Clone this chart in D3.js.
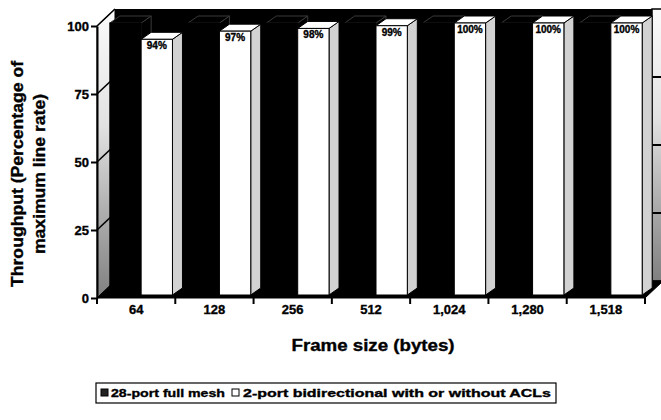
<!DOCTYPE html>
<html>
<head>
<meta charset="utf-8">
<script src="https://cdn.jsdelivr.net/npm/d3@7/dist/d3.min.js"></script>
<style>
  html, body { margin: 0; padding: 0; background: #fff; }
  svg { display: block; }
  text { font-family: "Liberation Sans", Arial, Helvetica, sans-serif; font-weight: bold; fill: #000; }
  .heavy { stroke: #000; stroke-width: 0.35px; }
</style>
</head>
<body>
<svg id="chart" width="661" height="420"></svg>
<script>
// Frame sizes tested (bytes)
const categories = ["64", "128", "256", "512", "1,024", "1,280", "1,518"];
// Throughput, percentage of maximum line rate
const fullMesh = [100, 100, 100, 100, 100, 100, 100];
const bidirectional = [94, 97, 98, 99, 100, 100, 100];
const seriesNames = ["28-port full mesh", "2-port bidirectional with or without ACLs"];
const yTicks = [0, 25, 50, 75, 100];

const svg = d3.select("#chart");

// Front plane of the 3-D box and its depth offset
const front = { left: 97, right: 645, top: 26, bottom: 298 };
const depth = { dx: 18, dy: -17 };
// Offsets for the bars inside the box
const barOff = { dx: 5, dy: -3 };
const barDepth = { dx: 10, dy: -7 };

const y = d3.scaleLinear().domain([0, 100]).range([front.bottom, front.top]);
const x = d3.scaleBand().domain(categories).range([front.left, front.right])
  .paddingInner(0.2).paddingOuter(0.1);
const xs = d3.scaleBand().domain(seriesNames).range([0, x.bandwidth()]).padding(0);

const defs = svg.append("defs");
const grad = defs.append("linearGradient").attr("id", "wallGrad")
  .attr("x1", 0).attr("y1", 0).attr("x2", 0).attr("y2", 1);
[["0%", "#fbfbfb"], ["40%", "#e2e2e2"], ["70%", "#afafaf"], ["100%", "#808080"]]
  .forEach(([o, c]) => grad.append("stop").attr("offset", o).attr("stop-color", c));

const pts = p => p.map(d => d.join(",")).join(" ");
const y0 = y(0), y100 = y(100);

// Back wall
svg.append("polygon")
  .attr("points", pts([[front.left + depth.dx, y100 + depth.dy], [652, y100 + depth.dy],
                       [652, y0 + depth.dy], [front.left + depth.dx, y0 + depth.dy]]))
  .attr("fill", "#000");
// Right-hand edge of the wall
svg.append("rect").attr("x", 652).attr("y", y100 + depth.dy)
  .attr("width", 12).attr("height", y0 - y100)
  .attr("fill", "url(#wallGrad)").attr("stroke", "#000").attr("stroke-width", 1.5);
svg.selectAll("line.rgrid").data(yTicks.filter(t => t > 0 && t < 100)).join("line")
  .attr("class", "rgrid")
  .attr("x1", 652).attr("x2", 661)
  .attr("y1", d => y(d) + depth.dy).attr("y2", d => y(d) + depth.dy)
  .attr("stroke", "#000").attr("stroke-width", 2);

// Left side wall
svg.append("polygon")
  .attr("points", pts([[front.left, y100], [front.left + depth.dx, y100 + depth.dy],
                       [front.left + depth.dx, y0 + depth.dy], [front.left, y0]]))
  .attr("fill", "url(#wallGrad)").attr("stroke", "#000").attr("stroke-width", 1);
svg.selectAll("line.lgrid").data(yTicks.filter(t => t > 0)).join("line")
  .attr("class", "lgrid")
  .attr("x1", front.left).attr("x2", front.left + depth.dx)
  .attr("y1", d => y(d)).attr("y2", d => y(d) + depth.dy)
  .attr("stroke", "#000").attr("stroke-width", 1.6);

// Floor
svg.append("polygon")
  .attr("points", pts([[front.left, y0], [front.right, y0],
                       [front.right + depth.dx, y0 + depth.dy], [front.left + depth.dx, y0 + depth.dy]]))
  .attr("fill", "#000").attr("stroke", "#000");

// 3-D bars
function drawBars(values, name, frontFill, sideFill, topFill, edge) {
  const w = xs.bandwidth();
  const g = svg.append("g");
  values.forEach((v, i) => {
    const x0 = x(categories[i]) + xs(name) + barOff.dx;
    const yt = y(v) + barOff.dy, yb = y(0) + barOff.dy;
    g.append("polygon")
      .attr("points", pts([[x0 + w, yt], [x0 + w + barDepth.dx, yt + barDepth.dy],
                           [x0 + w + barDepth.dx, yb + barDepth.dy], [x0 + w, yb]]))
      .attr("fill", sideFill).attr("stroke", edge).attr("stroke-width", 1);
    g.append("polygon")
      .attr("points", pts([[x0, yt], [x0 + w, yt], [x0 + w + barDepth.dx, yt + barDepth.dy],
                           [x0 + barDepth.dx, yt + barDepth.dy]]))
      .attr("fill", topFill).attr("stroke", edge).attr("stroke-width", 1);
    g.append("rect")
      .attr("x", x0).attr("y", yt).attr("width", w).attr("height", yb - yt)
      .attr("fill", frontFill).attr("stroke", "#000").attr("stroke-width", 1);
  });
  return g;
}
drawBars(fullMesh, seriesNames[0], "#000", "#000", "#000", "#3a3a3a");
drawBars(bidirectional, seriesNames[1], "#fff", "#d2d2d2", "#fff", "#000");

// Value labels on the white bars
svg.selectAll("text.vlabel").data(bidirectional).join("text")
  .attr("class", "vlabel heavy")
  .attr("x", (d, i) => x(categories[i]) + xs(seriesNames[1]) + barOff.dx + xs.bandwidth() / 2)
  .attr("y", d => y(d) + barOff.dy + 10)
  .attr("text-anchor", "middle")
  .attr("font-size", 10)
  .text(d => d + "%");

// Value axis
const yAxis = svg.append("g").attr("transform", `translate(${front.left},0)`)
  .call(d3.axisLeft(y).tickValues(yTicks).tickSize(6).tickSizeOuter(0).tickPadding(2));
yAxis.select(".domain").attr("stroke", "#000").attr("stroke-width", 2);
yAxis.selectAll(".tick line").attr("stroke", "#000").attr("stroke-width", 2);
yAxis.selectAll(".tick text").attr("font-size", 13).attr("font-family", null)
  .attr("fill", "#000").attr("class", "heavy");

// Category axis
const xAxis = svg.append("g").attr("transform", `translate(0,${y0})`)
  .call(d3.axisBottom(x).tickSize(0).tickPadding(7));
xAxis.select(".domain").remove();
xAxis.selectAll(".tick text").attr("font-size", 13).attr("font-family", null)
  .attr("fill", "#000").attr("class", "heavy");
const bounds = d3.range(categories.length + 1).map(k => front.left + k * (front.right - front.left) / categories.length);
svg.selectAll("line.xtick").data(bounds).join("line")
  .attr("class", "xtick")
  .attr("x1", d => d).attr("x2", d => d)
  .attr("y1", y0).attr("y2", y0 + 6)
  .attr("stroke", "#000").attr("stroke-width", 2);

// Axis titles
svg.append("text").attr("class", "heavy").attr("transform", "translate(23,174) rotate(-90)")
  .attr("text-anchor", "middle").attr("font-size", 16)
  .attr("textLength", 226).attr("lengthAdjust", "spacingAndGlyphs").text("Throughput (Percentage of");
svg.append("text").attr("class", "heavy").attr("transform", "translate(45,174) rotate(-90)")
  .attr("text-anchor", "middle").attr("font-size", 16)
  .attr("textLength", 160).attr("lengthAdjust", "spacingAndGlyphs").text("maximum line rate)");
svg.append("text").attr("class", "heavy").attr("x", 373).attr("y", 351)
  .attr("text-anchor", "middle").attr("font-size", 16)
  .attr("textLength", 163).attr("lengthAdjust", "spacingAndGlyphs").text("Frame size (bytes)");

// Legend
const legend = svg.append("g");
legend.append("rect").attr("x", 96).attr("y", 383).attr("width", 460).attr("height", 20)
  .attr("fill", "#fff").attr("stroke", "#000").attr("stroke-width", 1.2);
const legendItems = [
  { name: seriesNames[0], fill: "#222", sx: 101, tx: 111, len: 114 },
  { name: seriesNames[1], fill: "#fff", sx: 232, tx: 243, len: 308 }
];
legendItems.forEach(it => {
  legend.append("rect").attr("x", it.sx).attr("y", 389).attr("width", 7).attr("height", 7)
    .attr("fill", it.fill).attr("stroke", "#000").attr("stroke-width", 1);
  legend.append("text").attr("class", "heavy").attr("x", it.tx).attr("y", 397).attr("font-size", 11)
    .attr("textLength", it.len).attr("lengthAdjust", "spacingAndGlyphs").text(it.name);
});
</script>
</body>
</html>
